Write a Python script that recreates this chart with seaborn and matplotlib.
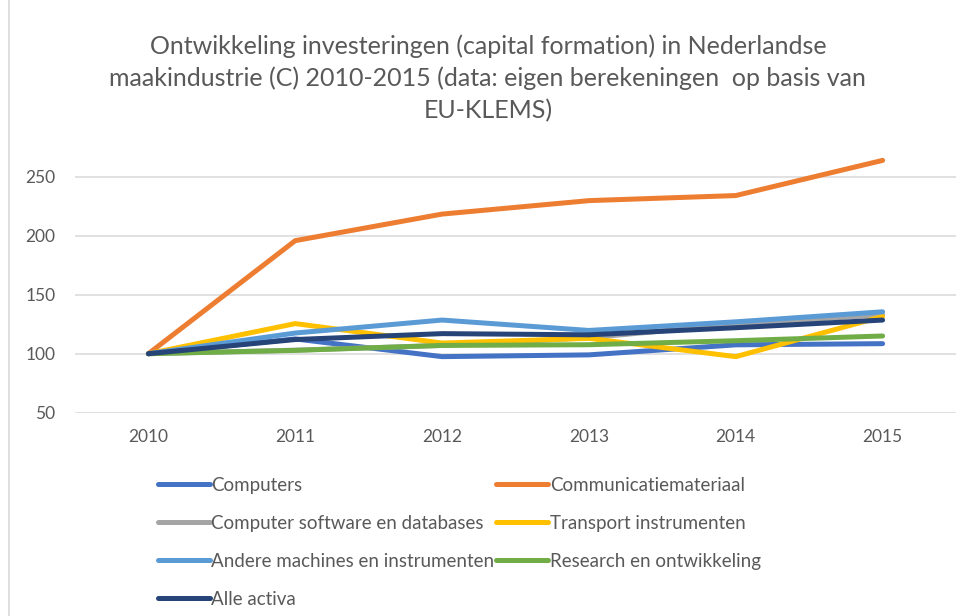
import numpy as np
import pandas as pd
import matplotlib
matplotlib.use("Agg")
import matplotlib.pyplot as plt
import seaborn as sns
from matplotlib.lines import Line2D

years = [2010, 2011, 2012, 2013, 2014, 2015]
series_names = [
    "Computers",
    "Communicatiemateriaal",
    "Computer software en databases",
    "Transport instrumenten",
    "Andere machines en instrumenten",
    "Research en ontwikkeling",
    "Alle activa",
]
computers = [100, 112.5, 97.5, 99, 107.5, 108.5]
communicatie = [100, 195.8, 218.3, 229.7, 234, 263.8]
software = [100, 103, 107, 113.5, 125, 133]
transport = [100, 125.5, 109, 113, 97.5, 131.5]
andere = [100, 117.5, 128.5, 119.7, 127, 135.5]
research = [100, 102.8, 107, 107.6, 111, 115]
alle = [100, 112, 117, 116, 122, 128.5]
values = [computers, communicatie, software, transport, andere, research, alle]
colors = ["#4472C4", "#ED7D31", "#A5A5A5", "#FFC000", "#5B9BD5", "#70AD47", "#264478"]

title = ("Ontwikkeling investeringen (capital formation) in Nederlandse\n"
         "maakindustrie (C) 2010-2015 (data: eigen berekeningen  op basis van\n"
         "EU-KLEMS)")

df = pd.DataFrame({
    "jaar": np.tile(years, len(series_names)),
    "serie": np.repeat(series_names, len(years)),
    "waarde": np.concatenate(values),
})

sns.set_theme(style="white")
plt.rcParams["font.family"] = ["Lato", "DejaVu Sans"]
textc = "#595959"

fig = plt.figure(figsize=(9.66, 6.16), dpi=100)
ax = fig.add_axes([75 / 966, 1 - 412.7 / 616, (956 - 75) / 966, (412.7 - 150) / 616])

sns.lineplot(data=df, x="jaar", y="waarde", hue="serie", hue_order=series_names,
             palette=colors, linewidth=3.6, ax=ax, legend=False, sort=False)
for ln in ax.get_lines():
    ln.set_solid_capstyle("round")
    ln.set_solid_joinstyle("round")

ax.set_xlim(2009.5, 2015.5)
ax.set_ylim(50, 272.6)
ax.set_xticks(years)
ax.set_xticklabels([str(y) for y in years])
ax.set_yticks([50, 100, 150, 200, 250])
ax.set_xlabel("")
ax.set_ylabel("")
ax.grid(axis="y", color="#d9d9d9", linewidth=1.1)
ax.set_axisbelow(True)
for s in ax.spines.values():
    s.set_visible(False)
ax.tick_params(axis="y", length=0, pad=14, labelsize=12.5, labelcolor=textc)
ax.tick_params(axis="x", length=0, pad=12, labelsize=12.5, labelcolor=textc)

fig.text(0.505, 1 - 78 / 616, title, ha="center", va="center", fontsize=18,
         color=textc, linespacing=1.45)

handles = [Line2D([0], [0], color=c, linewidth=3.6, solid_capstyle="round") for c in colors]
order = [0, 2, 4, 6, 1, 3, 5]
leg = fig.legend([handles[i] for i in order], [series_names[i] for i in order],
                 loc="upper left", bbox_to_anchor=(158 / 966, 1 - 477 / 616), ncol=2,
                 frameon=False, fontsize=13.5, handlelength=2.75, handletextpad=0.1,
                 columnspacing=0.1, labelspacing=1.12, borderaxespad=0, borderpad=0)
for t in leg.get_texts():
    t.set_color(textc)

fig.add_artist(Line2D([8.5 / 966, 8.5 / 966], [0, 1], color="#d9d9d9", linewidth=1.2,
                      transform=fig.transFigure))

fig.savefig("out.png", dpi=100)
